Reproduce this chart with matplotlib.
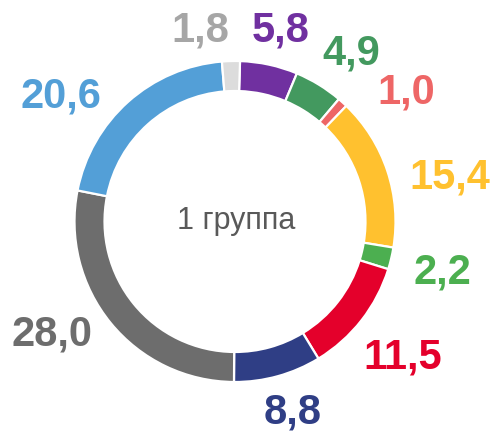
import matplotlib.pyplot as plt

# data, clockwise from the top
values = [5.8, 4.9, 1.0, 15.4, 2.2, 11.5, 8.8, 28.0, 20.6, 1.8]
labels = ['5,8', '4,9', '1,0', '15,4', '2,2', '11,5', '8,8', '28,0', '20,6', '1,8']
center_text = '1 группа'

colors = ['#7030A0', '#43995F', '#EE6666', '#FFC12F', '#4CAF50',
          '#E4002B', '#2F3E85', '#6D6D6D', '#539FD7', '#DCDCDC']
label_colors = colors[:-1] + ['#A6A6A6']

# label positions in units of the outer radius (layout only)
label_pos = [(0.287, 1.193), (0.723, 1.044), (1.065, 0.801), (1.340, 0.277),
             (1.290, -0.315), (1.047, -0.850), (0.361, -1.187),
             (-1.140, -0.701), (-1.084, 0.776), (-0.218, 1.193)]

plt.rcParams['font.family'] = ['Liberation Sans', 'DejaVu Sans']

fig = plt.figure(figsize=(4.95, 4.32), dpi=100)
ax = fig.add_axes([0, 0, 1, 1])

ax.pie(values, colors=colors, startangle=88.2, counterclock=False,
       radius=1.0, wedgeprops=dict(width=0.187, edgecolor='white', linewidth=1.6))

for text, (x, y), c in zip(labels, label_pos, label_colors):
    ax.text(x, y, text, ha='center', va='center', fontsize=30,
            fontweight='bold', color=c)

ax.text(0.01, 0.0, center_text, ha='center', va='center', fontsize=22,
        color='#595959')

ax.set_xlim(-235 / 160.5, 260 / 160.5)
ax.set_ylim(-210.5 / 160.5, 221.5 / 160.5)
ax.set_aspect('equal')
ax.axis('off')

fig.savefig('out.png', dpi=100)
